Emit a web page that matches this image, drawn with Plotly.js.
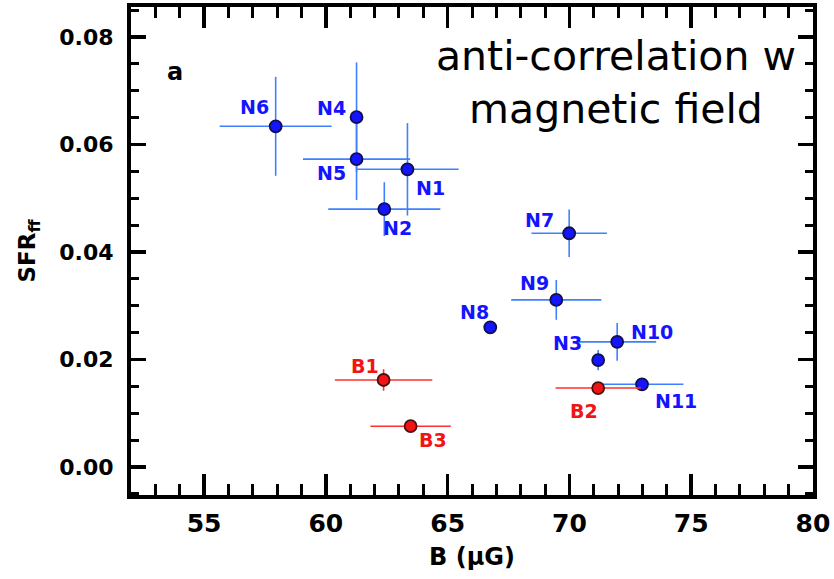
<!DOCTYPE html>
<html>
<head>
<meta charset="utf-8">
<script src="https://cdn.plot.ly/plotly-3.0.1.min.js"></script>
<style>html,body{margin:0;padding:0;background:#fff;}#chart{width:834px;height:579px;}</style>
</head>
<body>
<div id="chart"></div>
<script>
// Blue (N) regions
var nNames = ['N1','N2','N3','N4','N5','N6','N7','N8','N9','N10','N11'];
var nB     = [63.35, 62.4, 71.18, 61.26, 61.26, 57.94, 69.99, 66.75, 69.46, 71.96, 72.98];
var nSFR   = [0.0554, 0.0480, 0.0199, 0.0651, 0.0573, 0.0634, 0.0435, 0.0260, 0.0311, 0.0233, 0.0154];
var nBerr  = [2.1, 2.3, 0, 0, 2.2, 2.3, 1.55, 0, 1.85, 1.6, 1.7];
var nSFRerr= [0.0086, 0.0050, 0.0019, 0.0102, 0.0076, 0.0092, 0.0044, 0, 0.0037, 0.0035, 0];
// Red (B) regions
var bNames = ['B1','B2','B3'];
var bB     = [62.37, 71.18, 63.48];
var bSFR   = [0.0162, 0.0147, 0.0076];
var bBerr  = [2.0, 1.75, 1.65];
var bSFRerr= [0.002, 0, 0];

// label offsets in pixels (style only)
var labelShift = {
  N1:[23,-19], N2:[13,-19], N3:[-31,17], N4:[-25,9], N5:[-25,-14], N6:[-21,19],
  N7:[-30,13], N8:[-16,15], N9:[-22,17], N10:[35,10], N11:[34,-17],
  B1:[-19,14], B2:[-14,-23], B3:[22,-14]
};

var blue = '#1414ff', red = '#f01414';
var traces = [
  {x:nB, y:nSFR, type:'scatter', mode:'markers',
   marker:{size:12, color:blue, line:{color:'#10104a', width:1.8}},
   error_x:{type:'data', array:nBerr, color:'#3f80ff', thickness:1.6, width:0},
   error_y:{type:'data', array:nSFRerr, color:'#3f80ff', thickness:1.6, width:0},
   hoverinfo:'skip', showlegend:false},
  {x:bB, y:bSFR, type:'scatter', mode:'markers',
   marker:{size:12, color:red, line:{color:'#4a1010', width:1.8}},
   error_x:{type:'data', array:bBerr, color:'#ff3030', thickness:1.6, width:0},
   error_y:{type:'data', array:bSFRerr, color:'#ff3030', thickness:1.6, width:0},
   hoverinfo:'skip', showlegend:false}
];

var anns = [];
function addLabels(names, xs, ys, col){
  for (var i=0;i<names.length;i++){
    var s = labelShift[names[i]];
    anns.push({x:xs[i], y:ys[i], xref:'x', yref:'y', text:names[i], showarrow:false,
      xanchor:'center', yanchor:'middle',
      xshift:s[0], yshift:s[1], font:{family:'DejaVu Sans', size:19, color:col, weight:'bold'}});
  }
}
addLabels(nNames, nB, nSFR, blue);
addLabels(bNames, bB, bSFR, red);
anns.push({xref:'paper', yref:'paper', x:0.064, y:0.867, xanchor:'center', yanchor:'middle',
  text:'a', showarrow:false,
  font:{family:'DejaVu Sans', size:24, color:'#000', weight:'bold'}});
anns.push({xref:'paper', yref:'paper', x:0.711, y:0.845, xanchor:'center', yanchor:'middle',
  text:'anti-correlation w<br>magnetic field', align:'center', showarrow:false,
  font:{family:'DejaVu Sans', size:41, color:'#000'}});

var layout = {
  width:834, height:579,
  margin:{l:131, r:21, t:7, b:84},
  paper_bgcolor:'#fff', plot_bgcolor:'#fff',
  xaxis:{range:[52,80], tick0:55, dtick:5, showgrid:false, zeroline:false,
    showline:true, linecolor:'#000', linewidth:4, mirror:'allticks',
    ticks:'inside', ticklen:21, tickwidth:3.5, tickcolor:'#000',
    minor:{ticks:'inside', dtick:1, ticklen:11, tickwidth:3, tickcolor:'#000'},
    ticklabelstandoff:3,
    tickfont:{family:'DejaVu Sans', size:25, color:'#000', weight:'bold'},
    title:{text:'B (μG)', standoff:12, font:{family:'DejaVu Sans', size:24, color:'#000', weight:'bold'}}},
  yaxis:{range:[-0.0052,0.0856], tick0:0, dtick:0.02, tickformat:'.2f', showgrid:false, zeroline:false,
    showline:true, linecolor:'#000', linewidth:4, mirror:'allticks',
    ticks:'inside', ticklen:15, tickwidth:3.5, tickcolor:'#000',
    minor:{ticks:'inside', dtick:0.005, ticklen:8, tickwidth:3, tickcolor:'#000'},
    ticklabelstandoff:9,
    tickfont:{family:'DejaVu Sans', size:22, color:'#000', weight:'bold'},
    title:{text:'SFR<sub>ff</sub>', standoff:18, font:{family:'DejaVu Sans', size:23, color:'#000', weight:'bold'}}},
  annotations:anns
};
Plotly.newPlot('chart', traces, layout, {displayModeBar:false, staticPlot:true});
</script>
</body>
</html>
